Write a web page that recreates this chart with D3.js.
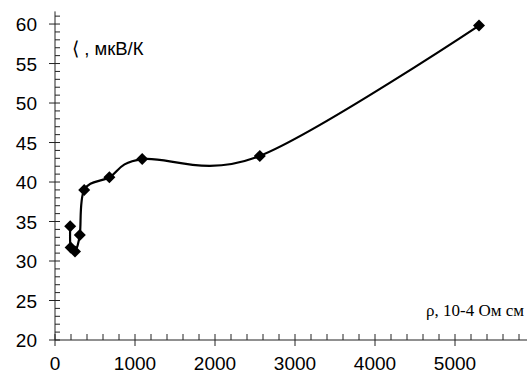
<!DOCTYPE html>
<html>
<head>
<meta charset="utf-8">
<script src="https://cdn.jsdelivr.net/npm/d3@7"></script>
<style>
  body { margin: 0; background: #fff; }
  svg text { font-family: Arial, "Liberation Sans", sans-serif; }
</style>
</head>
<body>
<div id="chart"></div>
<script>
// Seebeck coefficient vs resistivity
const rho = [190, 195, 250, 310, 365, 680, 1090, 2560, 5300];
const seebeck = [34.4, 31.7, 31.2, 33.3, 39.0, 40.6, 42.9, 43.3, 59.8];
const xTicks = [0, 1000, 2000, 3000, 4000, 5000];
const yTicks = [20, 25, 30, 35, 40, 45, 50, 55, 60];
const yLabel = "⟨ , мкВ/К";
const xLabel = "ρ, 10-4 Ом см";

const W = 527, H = 374;
const x = d3.scaleLinear().domain([0, 5900]).range([55, 527]);
const y = d3.scaleLinear().domain([20, 61.6]).range([340, 11.4]);

const svg = d3.select("#chart").append("svg")
  .attr("width", W).attr("height", H);

const axisColor = "#222";

// X axis: minor ticks above, major ticks crossing
const gx = svg.append("g").attr("transform", `translate(0,${y(20)})`);
gx.append("line").attr("x1", x(0)).attr("x2", W).attr("stroke", axisColor);
gx.selectAll(".minor").data(d3.range(200, 5900, 200).filter(v => v % 1000))
  .join("line")
  .attr("x1", d => x(d)).attr("x2", d => x(d))
  .attr("y1", -6).attr("y2", 0)
  .attr("stroke", axisColor);
gx.selectAll(".major").data(xTicks).join("line")
  .attr("x1", d => x(d)).attr("x2", d => x(d))
  .attr("y1", -6).attr("y2", 6)
  .attr("stroke", axisColor);
gx.selectAll("text").data(xTicks).join("text")
  .attr("x", d => x(d)).attr("y", 29.5)
  .attr("text-anchor", "middle")
  .attr("font-size", "19px")
  .attr("fill", "#000")
  .text(d => d);

// Y axis
const gy = svg.append("g").attr("transform", `translate(${x(0)},0)`);
gy.append("line").attr("y1", y(20)).attr("y2", y(61.6)).attr("stroke", axisColor);
gy.selectAll(".minor").data(d3.range(21, 62, 1).filter(v => v % 5))
  .join("line")
  .attr("y1", d => y(d)).attr("y2", d => y(d))
  .attr("x1", 0).attr("x2", 5)
  .attr("stroke", axisColor);
gy.selectAll(".major").data(yTicks).join("line")
  .attr("y1", d => y(d)).attr("y2", d => y(d))
  .attr("x1", -6).attr("x2", 5)
  .attr("stroke", axisColor);
gy.selectAll("text").data(yTicks).join("text")
  .attr("x", -18).attr("y", d => y(d) + 7)
  .attr("text-anchor", "end")
  .attr("font-size", "19px")
  .attr("fill", "#000")
  .text(d => d);

// Smoothed line
const pts = rho.map((r, i) => [r, seebeck[i]]);
const line = d3.line()
  .x(d => x(d[0])).y(d => y(d[1]))
  .curve(d3.curveCardinal.tension(0));
svg.append("path").datum(pts)
  .attr("fill", "none")
  .attr("stroke", "#000")
  .attr("stroke-width", 2.2)
  .attr("d", line);

// Diamond markers (rotated squares)
svg.selectAll(".pt").data(pts).join("path")
  .attr("transform", d => `translate(${x(d[0])},${y(d[1])}) rotate(45)`)
  .attr("d", d3.symbol(d3.symbolSquare, 72))
  .attr("fill", "#000");

// Labels
svg.append("text")
  .attr("x", 72).attr("y", 55)
  .attr("font-size", "18.5px")
  .text(yLabel);
svg.append("text")
  .attr("x", 524).attr("y", 316)
  .attr("text-anchor", "end")
  .style("font-family", "'Liberation Serif', 'Times New Roman', serif")
  .attr("font-size", "17px")
  .text(xLabel);
</script>
</body>
</html>
